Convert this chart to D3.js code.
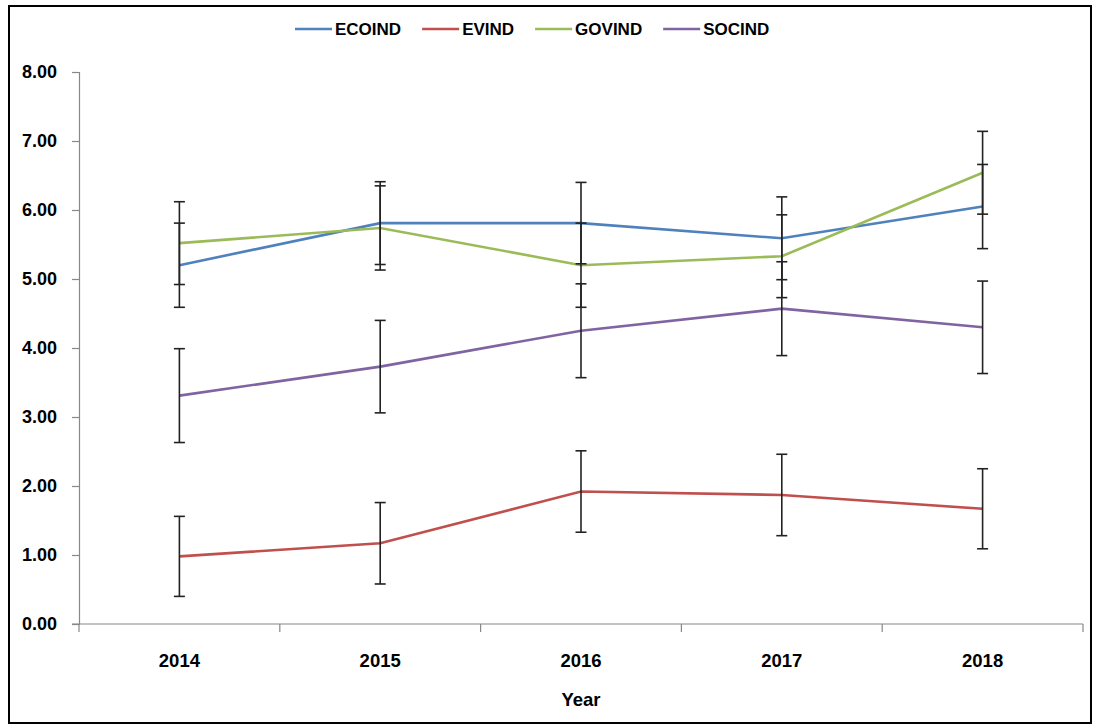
<!DOCTYPE html>
<html>
<head>
<meta charset="utf-8">
<script src="https://cdn.jsdelivr.net/npm/d3@7"></script>
<style>
  body { margin: 0; background: #fff; }
  text { font-family: "Liberation Sans", Arial, sans-serif; font-weight: bold; fill: #000; }
</style>
</head>
<body>
<svg id="chart" width="1094" height="725"></svg>
<script>
'use strict';

const years = ["2014", "2015", "2016", "2017", "2018"];
const seriesNames = ["ECOIND", "EVIND", "GOVIND", "SOCIND"];
const colors = ["#4F81BD", "#C0504D", "#9BBB59", "#8064A2"];

const ecoind = [5.20, 5.81, 5.81, 5.59, 6.05];
const evind  = [0.98, 1.17, 1.92, 1.87, 1.67];
const govind = [5.52, 5.74, 5.20, 5.33, 6.54];
const socind = [3.31, 3.73, 4.25, 4.57, 4.30];

const ecoErr = [0.61, 0.60, 0.59, 0.60, 0.61];
const evErr  = [0.58, 0.59, 0.59, 0.59, 0.58];
const govErr = [0.60, 0.61, 0.61, 0.60, 0.60];
const socErr = [0.68, 0.67, 0.68, 0.68, 0.67];

const yTicks = [0, 1, 2, 3, 4, 5, 6, 7, 8];

const values = [ecoind, evind, govind, socind];
const errors = [ecoErr, evErr, govErr, socErr];

const svg = d3.select("#chart");

// outer frame
svg.append("rect")
  .attr("x", 9).attr("y", 6)
  .attr("width", 1082).attr("height", 717)
  .attr("fill", "none")
  .attr("stroke", "#000")
  .attr("stroke-width", 2);

const plotLeft = 79, plotRight = 1083, plotTop = 72, plotBottom = 624;

const x = d3.scaleBand().domain(years).range([plotLeft, plotRight]).padding(0);
const y = d3.scaleLinear().domain([0, 8]).range([plotBottom, plotTop]);

// y axis
const yAxis = svg.append("g")
  .attr("transform", "translate(" + plotLeft + ",0)")
  .call(d3.axisLeft(y).tickValues(yTicks).tickSize(7).tickPadding(15).tickFormat(d3.format(".2f")));
yAxis.select(".domain").attr("stroke", "#888").attr("stroke-width", 1.2);
yAxis.selectAll(".tick line").attr("stroke", "#888").attr("stroke-width", 1.2);
yAxis.selectAll(".tick text")
  .style("font-size", "18px")
  .style("font-family", "'Liberation Sans', Arial, sans-serif")
  .style("font-weight", "bold")
  .attr("fill", "#000");

// x axis
const xAxis = svg.append("g")
  .attr("transform", "translate(0," + plotBottom + ")")
  .call(d3.axisBottom(x).tickSize(0).tickPadding(30));
xAxis.select(".domain").remove();
xAxis.selectAll(".tick text")
  .style("font-size", "18.5px")
  .style("font-family", "'Liberation Sans', Arial, sans-serif")
  .style("font-weight", "bold")
  .attr("fill", "#000");

svg.append("line")
  .attr("x1", plotLeft - 7).attr("x2", plotRight)
  .attr("y1", plotBottom).attr("y2", plotBottom)
  .attr("stroke", "#888").attr("stroke-width", 1.2);

const bounds = years.map(d => x(d)).concat([x(years[years.length - 1]) + x.bandwidth()]);
svg.selectAll(".xtick")
  .data(bounds)
  .enter().append("line")
  .attr("class", "xtick")
  .attr("x1", d => d).attr("x2", d => d)
  .attr("y1", plotBottom).attr("y2", plotBottom + 8)
  .attr("stroke", "#888").attr("stroke-width", 1.2);

svg.append("text")
  .attr("x", (plotLeft + plotRight) / 2)
  .attr("y", 706)
  .attr("text-anchor", "middle")
  .style("font-size", "18.5px")
  .text("Year");

const cx = d => x(d) + x.bandwidth() / 2;

const line = d3.line()
  .x((d, i) => cx(years[i]))
  .y(d => y(d));

// series lines
values.forEach((vals, s) => {
  svg.append("path")
    .datum(vals)
    .attr("d", line)
    .attr("fill", "none")
    .attr("stroke", colors[s])
    .attr("stroke-width", 2.6);
});

// error bars on top
values.forEach((vals, s) => {
  const g = svg.append("g");
  vals.forEach((v, i) => {
    const px = cx(years[i]);
    const lo = y(v - errors[s][i]), hi = y(v + errors[s][i]);
    g.append("line").attr("x1", px).attr("x2", px).attr("y1", lo).attr("y2", hi)
      .attr("stroke", "#222").attr("stroke-width", 1.6);
    [lo, hi].forEach(yy => {
      g.append("line").attr("x1", px - 5.5).attr("x2", px + 5.5).attr("y1", yy).attr("y2", yy)
        .attr("stroke", "#222").attr("stroke-width", 1.6);
    });
  });
});

// legend
const legend = svg.append("g").attr("transform", "translate(295,29)");
let lx = 0;
seriesNames.forEach((name, s) => {
  const item = legend.append("g").attr("transform", "translate(" + lx + ",0)");
  item.append("line").attr("x1", 0).attr("x2", 37).attr("y1", 0).attr("y2", 0)
    .attr("stroke", colors[s]).attr("stroke-width", 2.6);
  const t = item.append("text").attr("x", 40).attr("y", 6)
    .style("font-size", "17px").text(name);
  lx += 40 + t.node().getComputedTextLength() + 21;
});
</script>
</body>
</html>
